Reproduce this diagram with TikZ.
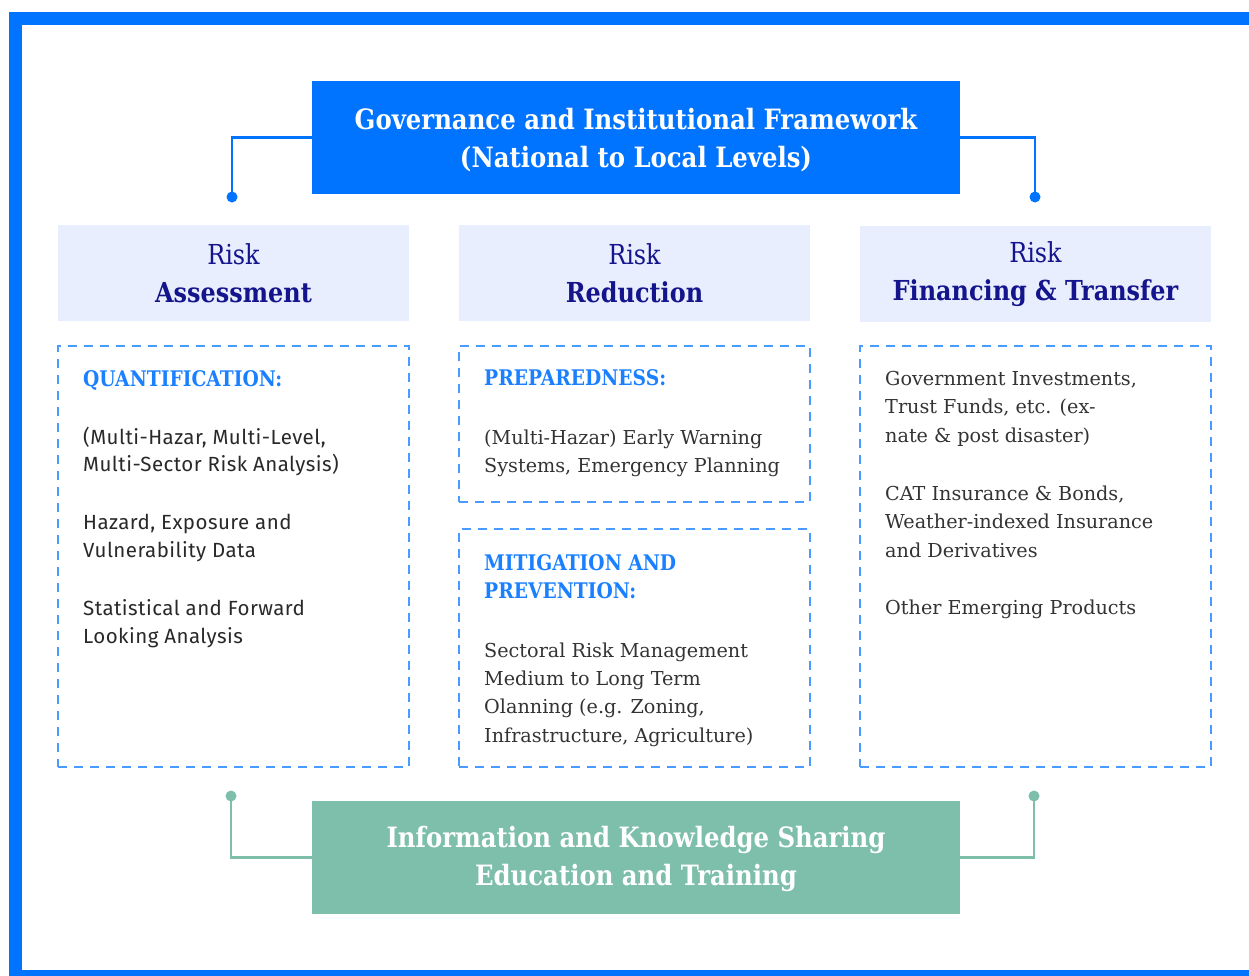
\documentclass[tikz,border=0pt]{standalone}
\usepackage{fontspec}
\setmainfont{DejaVu Serif}
\newfontfamily\slab[FakeStretch=0.87]{DejaVu Serif}
\newfontfamily\sanf[LetterSpace=2.2]{Fira Sans}
\definecolor{mainblue}{HTML}{0073FF}
\definecolor{dashblue}{HTML}{4A9BFF}
\definecolor{headblue}{HTML}{1A80FF}
\definecolor{lav}{HTML}{E8EEFE}
\definecolor{navy}{HTML}{14148C}
\definecolor{greenbox}{HTML}{7DBFAA}
\definecolor{bodygray}{HTML}{333333}
\tikzset{
  titlebox/.style={minimum width=648pt, minimum height=113pt, inner sep=0pt},
  titletext/.style={inner sep=0pt, align=center, text=white, font=\slab\bfseries\fontsize{28}{38}\selectfont},
  headbox/.style={fill=lav, minimum width=351pt, minimum height=96pt, inner sep=0pt, align=center,
    text=navy, font=\slab\fontsize{27.5}{38}\selectfont},
  dashbox/.style={draw=dashblue, line width=2pt, dash pattern=on 9pt off 7pt, inner sep=0pt},
  sectitle/.style={anchor=base west, inner sep=0pt, text=headblue, font=\slab\bfseries\fontsize{21.5}{28}\selectfont},
  bodytext/.style={anchor=base west, inner sep=0pt, text=bodygray, font=\fontsize{19.2}{28}\selectfont},
  sanstext/.style={anchor=base west, inner sep=0pt, text=bodygray!80!black, font=\sanf\fontsize{20.5}{28}\selectfont},
  govline/.style={draw=mainblue, line width=2.5pt},
  infoline/.style={draw=greenbox, line width=2.5pt},
}
\begin{document}
\begin{tikzpicture}[x=1pt,y=-1pt]
\useasboundingbox (0,0) rectangle (1249,975);
\begin{scope}
  \clip (0,0) rectangle (1249,975);
  \fill[mainblue] (9,12) rectangle (1300,1000);
  \fill[white] (22,25) rectangle (1300,970);
\end{scope}

% top governance box
\node[titlebox, fill=mainblue] (gov) at (636,137.5) {};
\node[titletext] (govt) at ([yshift=-2.5pt]gov.center) {Governance and Institutional Framework\\(National to Local Levels)};
\coordinate (dl) at (232,197);
\coordinate (dr) at (1035,197);
\draw[govline] (gov.west) -| (dl);
\draw[govline] (gov.east) -| (dr);
\fill[mainblue] (dl) circle (5.5pt);
\fill[mainblue] (dr) circle (5.5pt);

% header boxes
\node[headbox] (h1) at (233.5,273) {Risk\\\bfseries Assessment};
\node[headbox] (h2) at (634.5,273) {Risk\\\bfseries Reduction};
\node[headbox] (h3) at (1035.5,274) {Risk\\\bfseries Financing \& Transfer};

% dashed boxes
\node[dashbox, minimum width=351pt, minimum height=421pt] (b1) at (233.5,556.5) {};
\node[dashbox, minimum width=351pt, minimum height=156pt] (b2) at (634.5,424) {};
\node[dashbox, minimum width=351pt, minimum height=238pt] (b3) at (634.5,648) {};
\node[dashbox, minimum width=351pt, minimum height=421pt] (b4) at (1035.5,556.5) {};

% left column text
\node[sectitle] (q0) at (83,386) {QUANTIFICATION:};
\node[sanstext] (q1) at (83,444) {(Multi-Hazar, Multi-Level,};
\node[sanstext] (q2) at (83,471.5) {Multi-Sector Risk Analysis)};
\node[sanstext] (q3) at (83,529) {Hazard, Exposure and};
\node[sanstext] (q4) at (83,557) {Vulnerability Data};
\node[sanstext] (q5) at (83,615) {Statistical and Forward};
\node[sanstext] (q6) at (83,643) {Looking Analysis};

% middle column text
\node[sectitle] (p0) at (484,385) {PREPAREDNESS:};
\node[bodytext] (p1) at (484,444) {(Multi-Hazar) Early Warning};
\node[bodytext] (p2) at (484,472) {Systems, Emergency Planning};
\node[sectitle] (m0) at (484,570) {MITIGATION AND};
\node[sectitle] (m1) at (484,598) {PREVENTION:};
\node[bodytext] (m2) at (484,657) {Sectoral Risk Management};
\node[bodytext] (m3) at (484,685) {Medium to Long Term};
\node[bodytext] (m4) at (484,713) {Olanning (e.g. Zoning,};
\node[bodytext] (m5) at (484,742) {Infrastructure, Agriculture)};

% right column text
\node[bodytext] (f1) at (885,385) {Government Investments,};
\node[bodytext] (f2) at (885,413) {Trust Funds, etc. (ex-};
\node[bodytext] (f3) at (885,442) {nate \& post disaster)};
\node[bodytext] (f4) at (885,500) {CAT Insurance \& Bonds,};
\node[bodytext] (f5) at (885,528) {Weather-indexed Insurance};
\node[bodytext] (f6) at (885,557) {and Derivatives};
\node[bodytext] (f7) at (885,614) {Other Emerging Products};

% bottom info box
\node[titlebox, fill=greenbox] (info) at (636,857.5) {};
\node[titletext] (infot) at ([yshift=-1pt]info.center) {Information and Knowledge Sharing\\Education and Training};
\coordinate (bl) at (231,796);
\coordinate (br) at (1034,796);
\draw[infoline] (info.west) -| (bl);
\draw[infoline] (info.east) -| (br);
\fill[greenbox] (bl) circle (5.5pt);
\fill[greenbox] (br) circle (5.5pt);
\end{tikzpicture}
\end{document}
